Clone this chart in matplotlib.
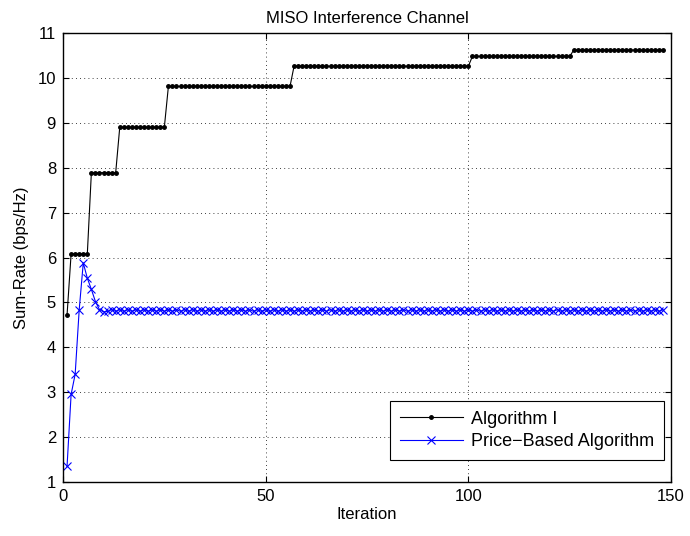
import numpy as np
import matplotlib.pyplot as plt

# Algorithm I: step levels and how many iterations each lasts
alg1_levels = [4.72, 6.08, 7.89, 8.90, 9.81, 10.26, 10.48, 10.62]
alg1_counts = [1, 5, 7, 12, 31, 44, 25, 23]

# Price-based algorithm: transient, then small oscillation around 4.82
price_start = [1.35, 2.95, 3.40, 4.84, 5.88, 5.54, 5.29, 5.02, 4.84, 4.79]
price_tail = [4.80, 4.84] * 69

alg1 = np.repeat(alg1_levels, alg1_counts)
price = np.array(price_start + price_tail)
it1 = np.arange(1, len(alg1) + 1)
it2 = np.arange(1, len(price) + 1)

plt.rcParams['font.family'] = ['Liberation Sans', 'DejaVu Sans']
plt.rcParams['font.size'] = 12

fig = plt.figure(figsize=(6.9, 5.36), dpi=100)
ax = fig.add_axes([0.0913, 0.1007, 0.8812, 0.8377])

ax.plot(it1, alg1, '-', color='black', marker='.', markersize=5, linewidth=0.8,
        label='Algorithm I')
ax.plot(it2, price, '-', color='blue', marker='x', markersize=6, linewidth=0.8,
        markeredgewidth=0.8, label='Price\u2212Based Algorithm')

ax.set_xlim(0, 150)
ax.set_ylim(1, 11)
ax.set_xticks([0, 50, 100, 150])
ax.set_yticks(range(1, 12))
ax.tick_params(direction='in', top=True, right=True, length=4, pad=5)
ax.grid(True, linestyle=(0, (1, 4)), color='black', linewidth=0.6)
for s in ax.spines.values():
    s.set_linewidth(1.0)

ax.set_xlabel('Iteration', labelpad=2)
ax.set_ylabel('Sum-Rate (bps/Hz)', labelpad=6)
ax.set_title('MISO Interference Channel', fontsize=12, pad=7)

leg = ax.legend(loc='lower right', bbox_to_anchor=(0.9885, 0.049), borderaxespad=0,
                fancybox=False, edgecolor='black', framealpha=1, fontsize=13,
                borderpad=0.55, handlelength=3.5, labelspacing=0.3, handletextpad=0.45)
leg.get_frame().set_linewidth(0.8)

fig.savefig('out.png', dpi=100)
